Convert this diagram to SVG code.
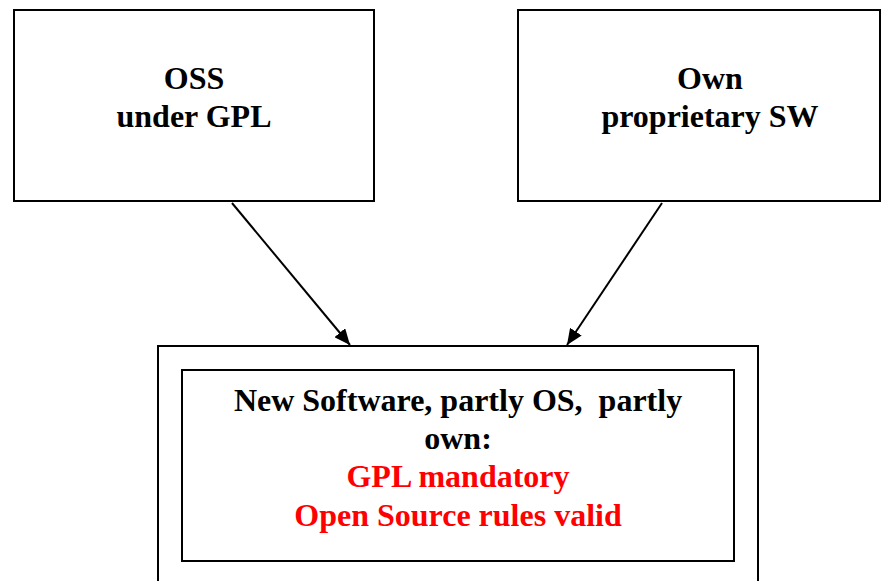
<svg xmlns="http://www.w3.org/2000/svg" width="887" height="581" viewBox="0 0 887 581">
<defs>
<style>
.box{fill:#fff;stroke:#000;stroke-width:2}
.t{font-family:"Liberation Serif","Times New Roman",serif;font-weight:bold;font-size:32px;text-anchor:middle;white-space:pre}
.red{fill:#ff0000}
.edge{stroke:#000;stroke-width:2;fill:none;marker-end:url(#ah)}
</style>
<marker id="ah" viewBox="0 0 10 10" refX="10" refY="5" markerWidth="16" markerHeight="14" markerUnits="userSpaceOnUse" orient="auto" preserveAspectRatio="none">
<path d="M0,0 L10,5 L0,10 z" fill="#000"/>
</marker>
</defs>
<rect width="887" height="581" fill="#fff"/>
<g id="oss">
<rect class="box" x="14" y="10" width="360" height="191"/>
<text class="t" x="194" y="89">OSS</text>
<text class="t" x="194" y="127">under GPL</text>
</g>
<g id="own">
<rect class="box" x="518" y="10" width="362" height="191"/>
<text class="t" x="710" y="89">Own</text>
<text class="t" x="710" y="127">proprietary SW</text>
</g>
<g id="new">
<rect class="box" x="158" y="346" width="600" height="260"/>
<rect class="box" x="182" y="370" width="552" height="191"/>
<text class="t" x="458" y="411" xml:space="preserve">New Software, partly OS,  partly</text>
<text class="t" x="458" y="449">own:</text>
<text class="t red" x="458" y="487">GPL mandatory</text>
<text class="t red" x="458" y="526">Open Source rules valid</text>
</g>
<g id="connectors">
<line class="edge" x1="232" y1="203" x2="350" y2="345"/>
<line class="edge" x1="662" y1="203" x2="567" y2="345"/>
</g>
</svg>
